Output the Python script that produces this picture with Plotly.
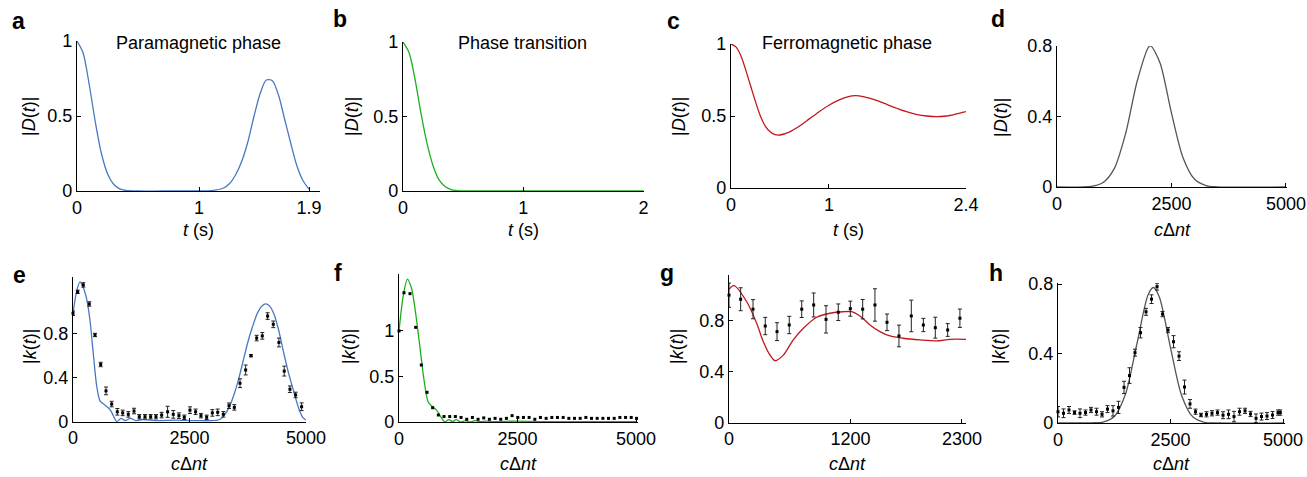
import plotly.graph_objects as go

W, H = 1307, 477

# ---------------- data ----------------
# panel a (paramagnetic phase)
a_t = [0, 0.05, 0.1, 0.15, 0.2, 0.25, 0.3, 0.35, 0.4, 0.5, 0.7, 0.9, 1.1, 1.2, 1.25, 1.3, 1.35, 1.4, 1.45, 1.5, 1.55, 1.6, 1.65, 1.7, 1.75, 1.8, 1.85, 1.9]
a_D = [1.0, 0.92, 0.71, 0.46, 0.25, 0.115, 0.045, 0.014, 0.004, 0, 0, 0, 0.003, 0.02, 0.05, 0.11, 0.2, 0.33, 0.5, 0.65, 0.74, 0.735, 0.64, 0.48, 0.32, 0.17, 0.07, 0.012]

# panel b (phase transition)
b_t = [0, 0.05, 0.1, 0.15, 0.2, 0.25, 0.3, 0.35, 0.4, 0.45, 0.5, 1.0, 1.5, 2.0]
b_D = [1.0, 0.93, 0.75, 0.52, 0.32, 0.17, 0.075, 0.03, 0.01, 0.003, 0.001, 0, 0, 0]

# panel c (ferromagnetic phase)
c_t = [0, 0.05, 0.1, 0.15, 0.2, 0.25, 0.3, 0.35, 0.4, 0.45, 0.5, 0.6, 0.7, 0.8, 0.9, 1.0, 1.1, 1.2, 1.27, 1.35, 1.5, 1.6, 1.7, 1.8, 1.9, 2.0, 2.1, 2.2, 2.3, 2.4]
c_D = [1.0, 0.98, 0.92, 0.82, 0.71, 0.6, 0.5, 0.43, 0.39, 0.37, 0.368, 0.39, 0.43, 0.48, 0.53, 0.575, 0.61, 0.635, 0.641, 0.635, 0.605, 0.578, 0.552, 0.528, 0.51, 0.5, 0.495, 0.5, 0.514, 0.53]

# panel d
d_x = [0, 750, 1000, 1250, 1500, 1750, 2000, 2050, 2250, 2500, 2750, 3000, 3250, 3500, 5000]
d_D = [0, 0.004, 0.024, 0.104, 0.305, 0.6, 0.794, 0.8, 0.704, 0.419, 0.168, 0.045, 0.008, 0.001, 0]

# panel e
e_line_x = [0, 75, 150, 220, 290, 365, 435, 510, 580, 690, 795, 870, 940, 1030, 1120, 1230, 1350, 1500, 1800, 2200, 2600, 3000, 3150, 3250, 3350, 3450, 3550, 3650, 3750, 3850, 3950, 4050, 4135, 4220, 4320, 4420, 4520, 4620, 4720, 4800, 4870, 4930, 5000]
e_line_y = [0.98, 1.18, 1.27, 1.22, 1.12, 0.92, 0.62, 0.32, 0.19, 0.15, 0.11, 0.05, 0.0, 0.03, 0.01, 0.03, 0.01, 0.02, 0.01, 0.015, 0.01, 0.01, 0.02, 0.06, 0.13, 0.24, 0.38, 0.55, 0.72, 0.86, 0.98, 1.05, 1.07, 1.05, 0.97, 0.82, 0.63, 0.45, 0.3, 0.18, 0.09, 0.04, 0.015]
e_pts_x = [0, 100, 221, 350, 472, 594, 708, 830, 951, 1066, 1187, 1309, 1423, 1545, 1666, 1780, 1902, 2030, 2152, 2273, 2388, 2510, 2631, 2746, 2868, 2990, 3105, 3226, 3348, 3462, 3584, 3705, 3819, 3941, 4062, 4176, 4298, 4419, 4533, 4655, 4777, 4906]
e_pts_y = [0.985, 1.18, 1.243, 1.07, 0.788, 0.52, 0.28, 0.16, 0.09, 0.08, 0.067, 0.097, 0.045, 0.045, 0.045, 0.045, 0.06, 0.09, 0.067, 0.055, 0.04, 0.105, 0.09, 0.055, 0.04, 0.08, 0.085, 0.067, 0.145, 0.13, 0.35, 0.47, 0.6, 0.76, 0.78, 0.96, 0.885, 0.72, 0.46, 0.295, 0.243, 0.136]
e_pts_err = [0.02, 0.015, 0.02, 0.02, 0.015, 0.02, 0.035, 0.025, 0.03, 0.025, 0.025, 0.025, 0.02, 0.02, 0.02, 0.02, 0.025, 0.05, 0.035, 0.025, 0.02, 0.03, 0.025, 0.02, 0.02, 0.03, 0.03, 0.025, 0.025, 0.025, 0.04, 0.045, 0.01, 0.025, 0.03, 0.03, 0.03, 0.04, 0.045, 0.03, 0.025, 0.035]

# panel f
f_line_x = [0, 88, 176, 264, 352, 440, 528, 616, 704, 792, 880, 968, 1050, 1130, 1210, 1300, 1400, 1500, 1600, 1700, 1850, 2000, 2500, 3000, 3500, 4000, 4500, 5000]
f_line_y = [1.0, 1.38, 1.57, 1.47, 1.19, 0.83, 0.46, 0.22, 0.17, 0.13, 0.06, 0.0, 0.025, 0.005, 0.025, 0.0, 0.015, 0.0, 0.015, 0.005, 0.01, 0.005, 0.01, 0.005, 0.005, 0.005, 0.005, 0.005]
f_pts_x = [0, 105, 232, 352, 471, 591, 710, 830, 950, 1070, 1189, 1309, 1429, 1548, 1668, 1788, 1907, 2027, 2146, 2266, 2386, 2506, 2625, 2745, 2865, 2984, 3104, 3224, 3343, 3463, 3583, 3702, 3822, 3942, 4061, 4181, 4301, 4420, 4540, 4660, 4780, 4899, 5010]
f_pts_y = [1.0, 1.42, 1.41, 1.04, 0.626, 0.326, 0.157, 0.077, 0.06, 0.06, 0.06, 0.05, 0.03, 0.05, 0.03, 0.045, 0.03, 0.04, 0.03, 0.04, 0.07, 0.05, 0.05, 0.05, 0.03, 0.05, 0.04, 0.05, 0.05, 0.05, 0.04, 0.04, 0.04, 0.05, 0.04, 0.04, 0.04, 0.04, 0.04, 0.05, 0.05, 0.05, 0.04]

# panel g
g_line_x = [0, 49, 174, 273, 339, 405, 454, 536, 635, 734, 866, 997, 1129, 1211, 1293, 1392, 1490, 1589, 1721, 1885, 2050, 2182, 2340]
g_line_y = [1.046, 1.075, 0.95, 0.78, 0.635, 0.53, 0.486, 0.53, 0.65, 0.74, 0.827, 0.858, 0.87, 0.87, 0.837, 0.766, 0.714, 0.68, 0.662, 0.649, 0.641, 0.654, 0.654]
g_pts_x = [0, 115, 237, 358, 474, 595, 718, 836, 958, 1079, 1198, 1320, 1441, 1560, 1678, 1800, 1919, 2037, 2159, 2280]
g_pts_y = [1.0, 0.968, 0.89, 0.758, 0.714, 0.766, 0.89, 0.923, 0.81, 0.866, 0.894, 0.89, 0.923, 0.787, 0.68, 0.837, 0.766, 0.745, 0.727, 0.819]
g_pts_err = [0.095, 0.09, 0.075, 0.068, 0.07, 0.068, 0.065, 0.094, 0.107, 0.065, 0.059, 0.076, 0.127, 0.065, 0.085, 0.124, 0.052, 0.082, 0.05, 0.072]

# panel h
h_line_x = [0, 750, 1000, 1250, 1500, 1750, 2000, 2118, 2250, 2500, 2750, 3000, 3250, 3500, 5000]
h_line_y = [0, 0.001, 0.005, 0.037, 0.167, 0.452, 0.737, 0.78, 0.727, 0.433, 0.156, 0.034, 0.004, 0.0, 0]
h_pts_x = [0, 122, 244, 367, 489, 611, 733, 856, 978, 1100, 1222, 1344, 1467, 1589, 1711, 1833, 1956, 2078, 2200, 2322, 2444, 2567, 2689, 2811, 2933, 3056, 3178, 3300, 3422, 3544, 3667, 3789, 3911, 4033, 4156, 4278, 4400, 4522, 4644, 4767, 4889, 4940]
h_pts_y = [0.065, 0.056, 0.075, 0.06, 0.056, 0.06, 0.075, 0.065, 0.05, 0.08, 0.07, 0.09, 0.205, 0.273, 0.405, 0.52, 0.64, 0.713, 0.785, 0.627, 0.535, 0.468, 0.385, 0.207, 0.11, 0.065, 0.046, 0.05, 0.056, 0.06, 0.045, 0.05, 0.037, 0.065, 0.07, 0.052, 0.027, 0.037, 0.04, 0.046, 0.06, 0.06]
h_pts_err = [0.03, 0.025, 0.02, 0.01, 0.025, 0.015, 0.015, 0.02, 0.015, 0.02, 0.03, 0.035, 0.035, 0.045, 0.02, 0.03, 0.02, 0.025, 0.02, 0.015, 0.015, 0.035, 0.025, 0.04, 0.025, 0.015, 0.01, 0.015, 0.015, 0.015, 0.02, 0.025, 0.03, 0.02, 0.015, 0.015, 0.025, 0.02, 0.02, 0.02, 0.015, 0.015]

# ---------------- styling ----------------
BLUE = "#4a78c0"
GREEN = "#1db01d"
RED = "#c3161c"
GRAY = "#555555"
FONT = "Liberation Sans, Arial, Helvetica, sans-serif"
TICK = 18

# pixel boxes: (x0, x1), (ybottom, ytop), ranges
panels = {
    1: dict(px=(77, 320), py=(191, 41), xr=[0, 1.99], yr=[0, 1], xt=[0, 1, 1.9], xl=["0", "1", "1.9"], yt=[0, 0.5, 1], yl=["0", "0.5", "1"]),
    2: dict(px=(403, 644), py=(191, 42), xr=[0, 2.005], yr=[0, 1], xt=[0, 1, 2], xl=["0", "1", "2"], yt=[0, 0.5, 1], yl=["0", "0.5", "1"]),
    3: dict(px=(731, 966), py=(188, 44), xr=[0, 2.4], yr=[0, 1], xt=[0, 1, 2.4], xl=["0", "1", "2.4"], yt=[0, 0.5, 1], yl=["0", "0.5", "1"]),
    4: dict(px=(1057, 1287), py=(187, 46), xr=[0, 5022], yr=[0, 0.8], xt=[0, 2500, 5000], xl=["0", "2500", "5000"], yt=[0, 0.4, 0.8], yl=["0", "0.4", "0.8"]),
    5: dict(px=(73, 306), py=(421.7, 277), xr=[0, 5000], yr=[0, 1.315], xt=[0, 2500, 5000], xl=["0", "2500", "5000"], yt=[0, 0.4, 0.8], yl=["0", "0.4", "0.8"]),
    6: dict(px=(399, 638), py=(422, 274), xr=[0, 5042], yr=[0, 1.626], xt=[0, 2500, 5000], xl=["0", "2500", "5000"], yt=[0, 0.5, 1], yl=["0", "0.5", "1"]),
    7: dict(px=(729, 966), py=(422.7, 275), xr=[0, 2340], yr=[0, 1.158], xt=[0, 1200, 2300], xl=["0", "1200", "2300"], yt=[0, 0.4, 0.8], yl=["0", "0.4", "0.8"]),
    8: dict(px=(1058, 1285), py=(423, 283), xr=[0, 5044], yr=[0, 0.806], xt=[0, 2500, 5000], xl=["0", "2500", "5000"], yt=[0, 0.4, 0.8], yl=["0", "0.4", "0.8"]),
}

fig = go.Figure()
layout = dict(
    width=W, height=H, margin=dict(l=0, r=0, t=0, b=0, autoexpand=False),
    paper_bgcolor="white", plot_bgcolor="white", showlegend=False,
    font=dict(family=FONT, size=TICK, color="black"),
)

for i, p in panels.items():
    sx = "" if i == 1 else str(i)
    common = dict(
        showline=True, linecolor="black", linewidth=1.2, mirror=False,
        ticks="inside", ticklen=4, tickwidth=1, tickcolor="black",
        showgrid=False, zeroline=False, automargin=False, fixedrange=True,
        tickfont=dict(family=FONT, size=TICK, color="black"),
    )
    layout["xaxis" + sx] = dict(domain=[p["px"][0] / W, p["px"][1] / W], range=p["xr"], anchor="y" + sx,
                                tickvals=p["xt"], ticktext=p["xl"], **common)
    layout["yaxis" + sx] = dict(domain=[1 - p["py"][0] / H, 1 - p["py"][1] / H], range=p["yr"], anchor="x" + sx,
                                tickvals=p["yt"], ticktext=p["yl"], **common)


def line(x, y, color, n):
    sx = "" if n == 1 else str(n)
    fig.add_trace(go.Scatter(x=x, y=y, mode="lines", line=dict(color=color, width=1.3, shape="spline", smoothing=0.8),
                             xaxis="x" + sx, yaxis="y" + sx, hoverinfo="skip"))


def points(x, y, n, err=None):
    sx = "" if n == 1 else str(n)
    kw = {}
    if err is not None:
        kw["error_y"] = dict(type="data", array=err, visible=True, color="#222222", thickness=1, width=2)
    fig.add_trace(go.Scatter(x=x, y=y, mode="markers", marker=dict(symbol="square", size=3, color="black"),
                             xaxis="x" + sx, yaxis="y" + sx, cliponaxis=False, hoverinfo="skip", **kw))


line(a_t, a_D, BLUE, 1)
line(b_t, b_D, GREEN, 2)
line(c_t, c_D, RED, 3)
line(d_x, d_D, GRAY, 4)
line(e_line_x, e_line_y, BLUE, 5)
points(e_pts_x, e_pts_y, 5, e_pts_err)
line(f_line_x, f_line_y, GREEN, 6)
points(f_pts_x, f_pts_y, 6)
line(g_line_x, g_line_y, RED, 7)
points(g_pts_x, g_pts_y, 7, g_pts_err)
line(h_line_x, h_line_y, GRAY, 8)
points(h_pts_x, h_pts_y, 8, h_pts_err)

ann = []


def text(px, py, s, size=TICK, angle=0, bold=False):
    ann.append(dict(x=px / W, y=1 - py / H, xref="paper", yref="paper", text=("<b>%s</b>" % s) if bold else s,
                    showarrow=False, xanchor="center", yanchor="middle", textangle=angle,
                    font=dict(family=FONT, size=size, color="black")))


# panel letters
for lab, (px, py) in {"a": (18, 21), "b": (340, 19), "c": (673, 21), "d": (998, 19),
                      "e": (19, 275), "f": (338, 273), "g": (667, 273), "h": (996, 273)}.items():
    text(px, py, lab, size=23, bold=True)

# panel titles
text(198, 43, "Paramagnetic phase", size=18)
text(522, 43, "Phase transition", size=18)
text(847, 43, "Ferromagnetic phase", size=18)

# x titles
ts = "<i>t</i> (s)"
cs = "<i>c</i>Δ<i>nt</i>"
text(198.5, 230, ts)
text(523.5, 230, ts)
text(848.5, 230, ts)
text(1172, 230, cs)
text(189.5, 464, cs)
text(518.5, 464, cs)
text(847.5, 464, cs)
text(1171.5, 464, cs)

# y titles
Ds = "|<i>D</i>(<i>t</i>)|"
ks = "|<i>k</i>(<i>t</i>)|"
text(29, 117, Ds, angle=-90)
text(352, 117, Ds, angle=-90)
text(679, 117, Ds, angle=-90)
text(1001, 117, Ds, angle=-90)
text(30, 347, ks, angle=-90)
text(349, 347, ks, angle=-90)
text(677, 347, ks, angle=-90)
text(999, 347, ks, angle=-90)

layout["annotations"] = ann
fig.update_layout(**layout)
fig.write_html("out.html", config={"displayModeBar": False},
               post_script="document.body.style.margin='0';document.body.style.padding='0';document.body.style.overflow='hidden';")
